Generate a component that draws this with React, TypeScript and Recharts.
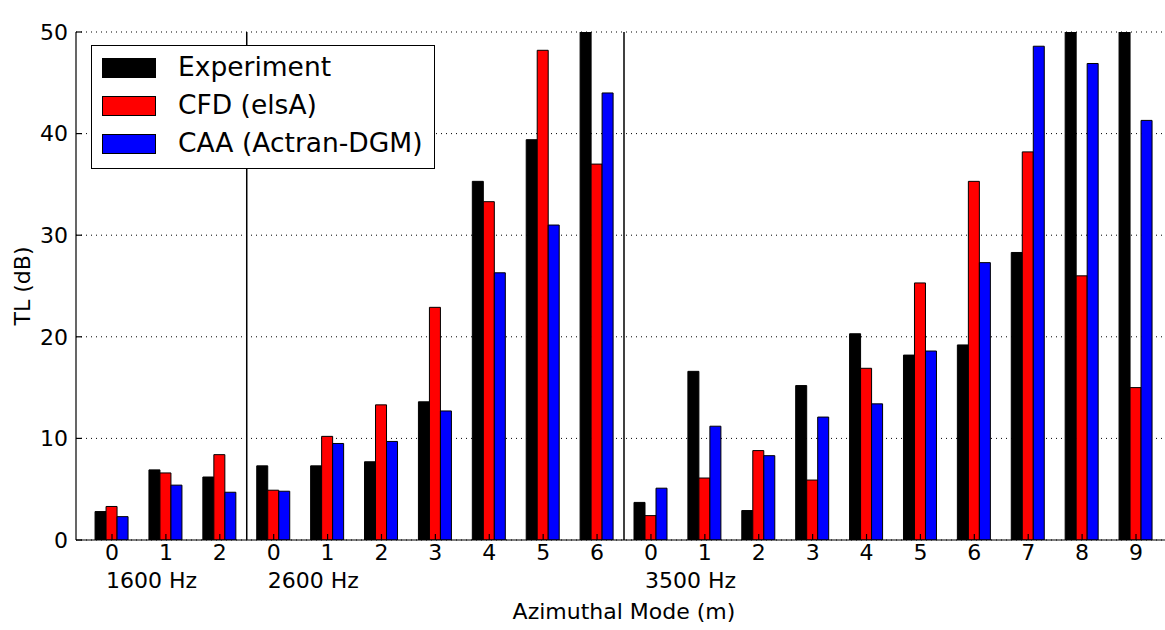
import React from 'react';
import { BarChart, Bar, XAxis, YAxis, CartesianGrid, ReferenceLine, Legend, Label } from 'recharts';

const modes = [0, 1, 2, 0, 1, 2, 3, 4, 5, 6, 0, 1, 2, 3, 4, 5, 6, 7, 8, 9];
const freqStart = [0, 3, 10];
const freqNames = ['1600 Hz', '2600 Hz', '3500 Hz'];
const experiment = [2.8, 6.9, 6.2, 7.3, 7.3, 7.7, 13.6, 35.3, 39.4, 50, 3.7, 16.6, 2.9, 15.2, 20.3, 18.2, 19.2, 28.3, 50, 50];
const cfd = [3.3, 6.6, 8.4, 4.9, 10.2, 13.3, 22.9, 33.3, 48.2, 37.0, 2.4, 6.1, 8.8, 5.9, 16.9, 25.3, 35.3, 38.2, 26.0, 15.0];
const caa = [2.3, 5.4, 4.7, 4.8, 9.5, 9.7, 12.7, 26.3, 31.0, 44.0, 5.1, 11.2, 8.3, 12.1, 13.4, 18.6, 27.3, 48.6, 46.9, 41.3];
const yTicks = [0, 10, 20, 30, 40, 50];
const separators = [2.5, 9.5];

const seriesNames = ['Experiment', 'CFD (elsA)', 'CAA (Actran-DGM)'];
const seriesColors = ['#000000', '#ff0000', '#0000ff'];

const data = modes.map((m, i) => ({ x: i, mode: m, exp: experiment[i], cfd: cfd[i], caa: caa[i] }));
const xTicks = modes.map((_, i) => i);

const FONT = '"DejaVu Sans", sans-serif';

const ModeTick = (props: any) => {
  const { x, y, payload } = props;
  const i = payload.value;
  const f = freqStart.indexOf(i);
  return (
    <g>
      <text x={x} y={y + 12} textAnchor="middle" fontSize={22} fontFamily={FONT} fill="#000">
        {modes[i]}
      </text>
      {f >= 0 && (
        <text x={x - 6} y={y + 40} textAnchor="start" fontSize={22} fontFamily={FONT} fill="#000">
          {freqNames[f]}
        </text>
      )}
    </g>
  );
};

const LegendBox = () => (
  <div
    style={{
      position: 'relative',
      width: 342,
      height: 122,
      border: '1.5px solid #000',
      background: '#fff',
      fontFamily: FONT,
      fontSize: 26.5,
    }}
  >
    {seriesNames.map((name, i) => (
      <div key={name} style={{ position: 'absolute', left: 0, top: 22 + i * 38 - 16, height: 32, width: '100%' }}>
        <div
          style={{
            position: 'absolute',
            left: 10,
            top: 6,
            width: 52,
            height: 18,
            background: seriesColors[i],
            border: '1px solid #000',
          }}
        />
        <div style={{ position: 'absolute', left: 86, top: -1, lineHeight: '32px', whiteSpace: 'nowrap' }}>{name}</div>
      </div>
    ))}
  </div>
);

const App: React.FC = () => {
  return (
    <div style={{ position: 'absolute', left: 0, top: 0, width: 1165, height: 630, background: '#fff' }}>
      <BarChart
        width={1165}
        height={630}
        data={data}
        margin={{ top: 32, right: 0, left: 0, bottom: 0 }}
        barGap={0}
        barSize={11}
      >
        <CartesianGrid horizontal vertical={false} stroke="#000" strokeDasharray="1 4" />
        <XAxis
          dataKey="x"
          type="number"
          domain={[-0.668, 19.538]}
          ticks={xTicks}
          allowDataOverflow
          height={90}
          tickSize={-6}
          tickMargin={14}
          stroke="#000"
          strokeWidth={1.2}
          tick={<ModeTick />}
          interval={0}
        >
          <Label
            content={() => (
              <text x={624} y={619} textAnchor="middle" fontSize={22} fontFamily={FONT} fill="#000">
                Azimuthal Mode (m)
              </text>
            )}
          />
        </XAxis>
        <XAxis
          xAxisId="top"
          dataKey="x"
          type="number"
          orientation="top"
          domain={[-0.668, 19.538]}
          ticks={xTicks}
          allowDataOverflow
          height={0}
          tickSize={-6}
          stroke="#000"
          strokeWidth={1.2}
          tick={() => <g />}
          interval={0}
        >
          <Label
            content={() => (
              <text x={622} y={25} textAnchor="middle" fontSize={26.5} fontFamily={FONT} fill="#000">
                ACL liner - Exhaust config.  - Mach 0.3
              </text>
            )}
          />
        </XAxis>
        <YAxis
          domain={[0, 50]}
          ticks={yTicks}
          width={76}
          tickSize={-6}
          tickMargin={14}
          stroke="#000"
          strokeWidth={1.2}
          tick={{ fontSize: 22, fontFamily: FONT, fill: '#000' }}
          allowDataOverflow
        >
          <Label
            content={() => (
              <text
                x={22}
                y={286}
                textAnchor="middle"
                dominantBaseline="central"
                fontSize={22}
                fontFamily={FONT}
                fill="#000"
                transform="rotate(-90 22 286)"
              >
                TL (dB)
              </text>
            )}
          />
        </YAxis>
        <Legend
          layout="vertical"
          align="center"
          verticalAlign="middle"
          content={() => <LegendBox />}
          wrapperStyle={{ left: 91, top: 45, width: 345, height: 125 }}
        />
        {separators.map((s) => (
          <ReferenceLine key={s} x={s} stroke="#000" strokeWidth={1.5} />
        ))}
        <Bar dataKey="exp" name={seriesNames[0]} fill={seriesColors[0]} stroke="#000" strokeWidth={1} isAnimationActive={false} />
        <Bar dataKey="cfd" name={seriesNames[1]} fill={seriesColors[1]} stroke="#000" strokeWidth={1} isAnimationActive={false} />
        <Bar dataKey="caa" name={seriesNames[2]} fill={seriesColors[2]} stroke="#000" strokeWidth={1} isAnimationActive={false} />
      </BarChart>
    </div>
  );
};

export default App;
